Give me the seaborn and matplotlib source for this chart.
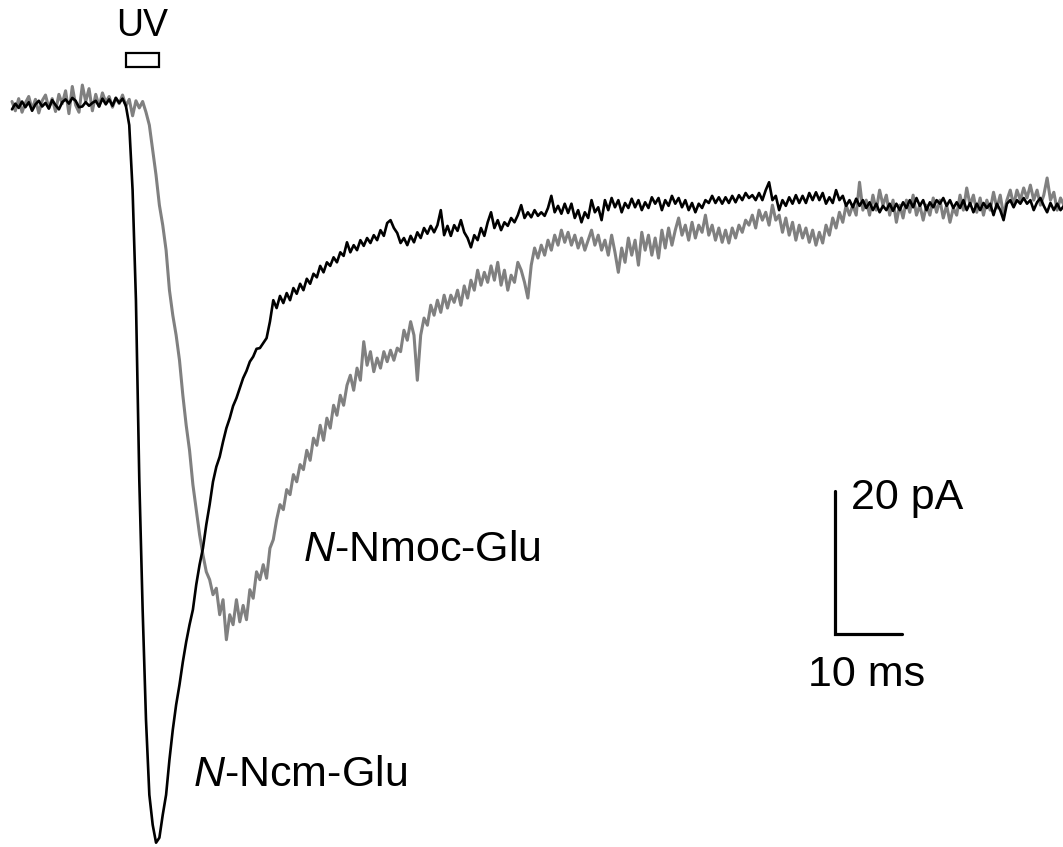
import numpy as np
import matplotlib
matplotlib.use("Agg")
import matplotlib.pyplot as plt
import seaborn as sns
from matplotlib.patches import Rectangle

# sampled current traces, 0.5 ms per sample, in pA
dt = 0.5

ncm_glu = [
    -0.6, 0.2, -0.4, 0.5, -0.3, 0.4, -0.8, 0.1, 0.6, -0.2,
    0.3, -0.5, 0.7, 0.0, -0.6, 0.4, 0.8, 0.2, 1.0, 0.6,
    -0.3, -0.2, 0.4, -0.1, 0.3, 0.6, -0.2, 0.9, 0.1, 0.8,
    -0.1, 1.0, 0.3, 0.9, -0.1, -2.8, -11.9, -27.3, -52.4, -70.6,
    -86.0, -96.5, -100.7, -103.2, -102.5, -99.3, -96.5, -91.6, -87.4, -83.9,
    -81.1, -77.9, -75.1, -72.7, -70.6, -67.1, -64.3, -62.0, -58.7, -55.9,
    -52.7, -50.6, -49.2, -47.1, -45.2, -43.8, -42.1, -41.0, -39.6, -38.2,
    -37.2, -35.9, -35.2, -34.1, -34.0, -33.3, -32.6, -30.3, -27.3, -28.4,
    -26.7, -27.7, -26.3, -27.3, -25.6, -26.4, -25.0, -25.9, -24.3, -25.0,
    -23.6, -24.1, -22.5, -23.4, -22.0, -22.5, -21.3, -22.0, -20.6, -21.1,
    -19.2, -20.6, -19.6, -20.3, -18.9, -19.7, -18.6, -19.3, -18.2, -18.9,
    -17.5, -18.3, -16.5, -16.1, -17.2, -17.9, -19.3, -18.6, -19.6, -18.3,
    -19.2, -17.8, -18.6, -17.2, -18.0, -16.9, -17.8, -16.8, -14.7, -18.2,
    -16.9, -18.3, -16.8, -17.6, -16.1, -17.8, -18.6, -19.9, -18.2, -18.9,
    -17.2, -18.3, -16.4, -15.0, -17.2, -16.1, -17.5, -16.4, -16.9, -15.8,
    -16.4, -15.4, -14.0, -15.8, -15.0, -15.7, -14.7, -15.5, -15.0, -15.5,
    -14.4, -12.7, -15.0, -14.1, -15.2, -13.8, -15.1, -13.8, -15.8, -14.7,
    -16.4, -15.0, -15.8, -13.3, -15.0, -14.3, -16.1, -13.3, -14.7, -13.0,
    -14.3, -13.3, -15.0, -13.7, -14.4, -13.1, -14.3, -13.3, -14.7, -13.6,
    -14.4, -12.9, -13.8, -13.0, -14.7, -13.3, -14.1, -12.7, -13.8, -13.0,
    -14.3, -13.3, -14.7, -13.7, -15.0, -13.8, -14.4, -13.3, -13.7, -12.7,
    -13.7, -12.9, -13.8, -12.9, -13.7, -12.7, -13.6, -12.6, -13.3, -12.3,
    -13.0, -12.6, -13.3, -12.3, -13.3, -11.9, -10.8, -13.3, -12.7, -14.7,
    -13.3, -14.1, -12.9, -13.8, -12.6, -13.7, -12.7, -13.7, -12.3, -13.3,
    -12.2, -13.3, -12.3, -13.8, -12.9, -13.7, -11.9, -13.3, -12.7, -14.1,
    -13.3, -14.3, -13.1, -14.1, -13.3, -14.4, -13.6, -14.7, -13.8, -15.0,
    -14.1, -14.7, -13.8, -14.8, -13.8, -14.7, -13.6, -14.4, -13.3, -14.3,
    -13.0, -14.1, -13.3, -14.7, -13.6, -14.3, -13.3, -13.8, -13.0, -14.1,
    -13.3, -14.4, -13.6, -14.4, -13.3, -14.7, -13.7, -15.0, -13.8, -14.7,
    -13.7, -14.4, -13.8, -15.4, -13.8, -14.7, -16.1, -13.8, -13.3, -14.3,
    -13.3, -13.8, -13.0, -13.8, -13.3, -14.7, -13.6, -13.0, -14.1, -15.0,
    -13.7, -14.7, -13.8, -14.7, -14.1,
]

nmoc_glu = [
    0.5, -0.8, 0.9, -1.0, 0.3, 1.2, -0.6, 0.8, -1.1, 0.6,
    1.4, -0.4, 0.9, -0.9, 1.5, 0.2, 2.0, -1.2, 2.6, 0.0,
    -1.0, 2.8, 0.5, 2.3, -0.8, 1.5, -0.2, 1.7, 0.4, 1.2,
    -0.3, 1.0, 0.2, 1.4, -0.1, 0.8, -1.5, 0.6, -0.4, 0.5,
    -1.0, -2.8, -6.3, -9.8, -14.0, -16.8, -20.3, -25.9, -29.4, -32.2,
    -35.7, -40.6, -44.8, -48.3, -53.1, -56.6, -60.1, -62.9, -65.3, -66.4,
    -68.5, -67.6, -71.3, -69.2, -74.8, -71.3, -72.7, -69.2, -72.3, -70.0,
    -72.0, -67.8, -69.0, -65.3, -66.4, -64.3, -66.2, -62.0, -60.8, -58.0,
    -55.9, -56.6, -53.8, -54.5, -51.7, -52.7, -50.3, -51.0, -48.3, -49.7,
    -46.6, -47.6, -44.8, -46.9, -43.8, -45.2, -42.0, -43.4, -40.6, -42.0,
    -39.2, -37.8, -39.9, -36.8, -38.5, -33.1, -36.4, -34.5, -37.3, -35.4,
    -36.8, -34.5, -35.9, -34.3, -35.7, -34.0, -34.5, -31.5, -32.9, -30.3,
    -32.2, -38.5, -32.2, -29.8, -30.8, -28.0, -29.4, -27.3, -29.0, -26.6,
    -28.4, -26.6, -27.6, -25.9, -28.0, -25.3, -27.0, -24.5, -25.9, -23.1,
    -25.2, -23.4, -24.8, -22.5, -24.5, -22.0, -25.2, -23.1, -25.9, -23.8,
    -24.8, -22.0, -23.1, -24.8, -27.0, -22.4, -20.0, -21.4, -19.6, -21.0,
    -18.9, -20.3, -18.2, -19.6, -17.5, -19.2, -17.8, -19.6, -18.2, -20.0,
    -18.6, -20.3, -18.9, -17.5, -19.6, -18.2, -20.3, -18.9, -21.0, -18.2,
    -20.6, -23.4, -20.0, -22.0, -18.6, -21.0, -18.9, -22.4, -17.8, -20.3,
    -18.2, -21.0, -18.6, -21.4, -17.5, -20.0, -17.2, -19.6, -17.5, -15.8,
    -18.2, -16.8, -18.9, -16.4, -18.6, -16.8, -17.8, -15.4, -18.2, -16.8,
    -18.9, -17.2, -19.2, -17.5, -19.3, -17.2, -18.6, -16.8, -17.8, -16.1,
    -16.8, -15.4, -17.2, -14.7, -16.1, -15.0, -16.8, -14.0, -16.1, -15.4,
    -17.8, -15.8, -18.2, -16.4, -18.9, -16.8, -18.6, -17.2, -19.2, -17.5,
    -19.6, -17.8, -19.3, -16.8, -18.2, -15.8, -17.2, -15.0, -16.4, -14.0,
    -15.4, -14.0, -15.4, -10.8, -14.7, -13.3, -15.4, -12.6, -14.7, -11.9,
    -14.0, -12.6, -15.4, -13.3, -16.4, -14.0, -15.8, -13.3, -15.0, -12.6,
    -15.4, -14.0, -16.1, -14.0, -15.4, -13.0, -15.0, -13.3, -15.8, -14.0,
    -16.4, -14.4, -15.4, -12.6, -14.7, -11.6, -14.0, -12.6, -15.0, -13.0,
    -15.4, -13.3, -14.7, -12.2, -14.4, -12.6, -15.4, -13.3, -11.9, -14.0,
    -11.9, -13.3, -11.6, -13.0, -11.2, -13.3, -11.9, -14.0, -12.6, -10.2,
    -13.3, -12.2, -14.7, -13.0, -14.0,
]

trace_labels = ["N-Ncm-Glu", "N-Nmoc-Glu"]
uv_on, uv_off = 17.0, 21.9      # ms
bar_ms, bar_pa = 10, 20

time = np.arange(len(ncm_glu)) * dt

sns.set_style("white")
plt.rcParams["font.family"] = ["Liberation Sans", "DejaVu Sans"]
plt.rcParams["text.color"] = "black"
plt.rcParams["mathtext.fontset"] = "custom"
plt.rcParams["mathtext.it"] = "Liberation Sans:italic"
plt.rcParams["mathtext.rm"] = "Liberation Sans"

fig = plt.figure(figsize=(10.63, 8.47), dpi=100)
ax = fig.add_axes([0, 0, 1, 1])

sns.lineplot(x=time, y=nmoc_glu, ax=ax, color="#808080", linewidth=2.2)
sns.lineplot(x=time, y=ncm_glu, ax=ax, color="black", linewidth=1.9)

ax.set_xlim(-1.79, 156.87)
ax.set_ylim(-103.8, 14.7)
ax.axis("off")

# UV flash marker
ax.add_patch(Rectangle((uv_on, 5.3), uv_off - uv_on, 2.0, facecolor="white",
                       edgecolor="black", linewidth=1.6))
ax.text((uv_on + uv_off) / 2, 11.0, "UV", ha="center", va="center",
        fontsize=27, color="black")

# scale bar
x0, y0 = 122.8, -74.0
ax.plot([x0, x0, x0 + bar_ms], [y0 + bar_pa, y0, y0], color="black",
        linewidth=2.3, solid_joinstyle="miter")
ax.text(x0 + 2.5, y0 + 19.0, f"{bar_pa} pA", ha="left", va="center",
        fontsize=31, color="black")
ax.text(x0 - 4.0, y0 - 5.7, f"{bar_ms} ms", ha="left", va="center",
        fontsize=31, color="black")

# trace labels
ax.text(27.0, -93.7, r"$\mathit{N}$" + trace_labels[0][1:], ha="left", va="center",
        fontsize=31, color="black")
ax.text(43.4, -62.2, r"$\mathit{N}$" + trace_labels[1][1:], ha="left", va="center",
        fontsize=31, color="black")

fig.savefig("out.png", dpi=100, facecolor="white")
